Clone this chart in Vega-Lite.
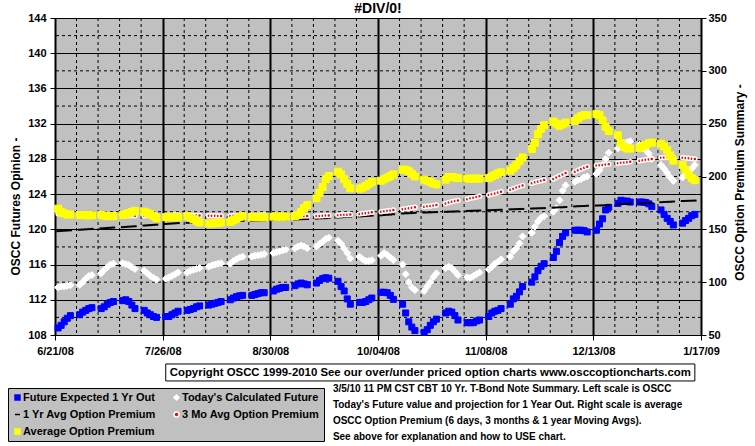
{
"$schema": "https://vega.github.io/schema/vega-lite/v6.json",
"width": 646, "height": 317,
"autosize": {"type": "none"},
"padding": {"left": 55, "top": 18, "right": 54, "bottom": 111},
"background": "white",
"title": {"text": "#DIV/0!", "fontSize": 14, "font": "Liberation Sans", "fontWeight": "bold", "color": "black", "anchor": "middle", "frame": "group", "offset": 0, "dy": 15, "baseline": "alphabetic"},
"data": {"format": {"parse": {"d": "date:'%Y-%m-%d'"}}, "values": [
{"d":"2008-06-22","fe":108.8,"tc":113.4,"ya":148.3,"mo":164.8,"ap":169.5},
{"d":"2008-06-23","fe":109.1,"tc":113.5,"ya":148.5,"mo":164.5,"ap":166.5},
{"d":"2008-06-24","fe":109.5,"tc":113.5,"ya":148.7,"mo":164.2,"ap":165},
{"d":"2008-06-25","fe":109.9,"tc":113.6,"ya":148.9,"mo":164.0,"ap":164},
{"d":"2008-06-26","fe":110.2,"tc":113.65,"ya":149.1,"mo":163.8,"ap":164},
{"d":"2008-06-29","fe":110.3,"tc":113.7,"ya":149.6,"mo":163.7,"ap":163.5},
{"d":"2008-06-30","fe":110.6,"tc":114.0,"ya":149.8,"mo":163.5,"ap":163.5},
{"d":"2008-07-01","fe":110.8,"tc":114.4,"ya":150.0,"mo":163.3,"ap":163.3},
{"d":"2008-07-02","fe":111.0,"tc":114.7,"ya":150.2,"mo":163.2,"ap":163.3},
{"d":"2008-07-03","fe":111.1,"tc":114.8,"ya":150.4,"mo":163.1,"ap":163.3},
{"d":"2008-07-06","fe":111.0,"tc":115.0,"ya":150.9,"mo":163.0,"ap":163.5},
{"d":"2008-07-07","fe":111.2,"tc":115.4,"ya":151.1,"mo":162.9,"ap":163},
{"d":"2008-07-08","fe":111.5,"tc":115.7,"ya":151.3,"mo":162.8,"ap":162.5},
{"d":"2008-07-09","fe":111.7,"tc":116.0,"ya":151.5,"mo":162.8,"ap":162.5},
{"d":"2008-07-10","fe":111.8,"tc":116.1,"ya":151.7,"mo":162.7,"ap":162.5},
{"d":"2008-07-13","fe":111.9,"tc":116.15,"ya":152.1,"mo":162.7,"ap":163.5},
{"d":"2008-07-14","fe":112.0,"tc":116.05,"ya":152.3,"mo":162.7,"ap":164.5},
{"d":"2008-07-15","fe":111.8,"tc":115.95,"ya":152.5,"mo":162.8,"ap":165.5},
{"d":"2008-07-16","fe":111.4,"tc":115.7,"ya":152.7,"mo":162.8,"ap":166.5},
{"d":"2008-07-17","fe":111.0,"tc":115.5,"ya":152.9,"mo":162.8,"ap":167.5},
{"d":"2008-07-20","fe":110.8,"tc":115.3,"ya":153.6,"mo":162.8,"ap":166.7},
{"d":"2008-07-21","fe":110.5,"tc":115.0,"ya":153.8,"mo":162.9,"ap":165.7},
{"d":"2008-07-22","fe":110.3,"tc":114.7,"ya":154.0,"mo":163.0,"ap":164.5},
{"d":"2008-07-23","fe":110.1,"tc":114.5,"ya":154.2,"mo":163.1,"ap":162.6},
{"d":"2008-07-24","fe":110.0,"tc":114.3,"ya":154.4,"mo":163.2,"ap":160.4},
{"d":"2008-07-27","fe":110.1,"tc":114.4,"ya":155.1,"mo":163.2,"ap":161.5},
{"d":"2008-07-28","fe":110.1,"tc":114.55,"ya":155.3,"mo":163.3,"ap":161.5},
{"d":"2008-07-29","fe":110.3,"tc":114.7,"ya":155.5,"mo":163.4,"ap":161.5},
{"d":"2008-07-30","fe":110.5,"tc":114.9,"ya":155.7,"mo":163.5,"ap":161.5},
{"d":"2008-07-31","fe":110.7,"tc":115.1,"ya":155.9,"mo":163.5,"ap":161.5},
{"d":"2008-08-03","fe":110.8,"tc":115.1,"ya":156.2,"mo":163.5,"ap":162.5},
{"d":"2008-08-04","fe":110.9,"tc":115.3,"ya":156.4,"mo":163.4,"ap":161},
{"d":"2008-08-05","fe":111.0,"tc":115.4,"ya":156.6,"mo":163.3,"ap":159.5},
{"d":"2008-08-06","fe":111.2,"tc":115.5,"ya":156.8,"mo":163.1,"ap":158},
{"d":"2008-08-07","fe":111.3,"tc":115.6,"ya":157.0,"mo":163.0,"ap":156.5},
{"d":"2008-08-10","fe":111.4,"tc":115.75,"ya":157.0,"mo":162.9,"ap":155.5},
{"d":"2008-08-11","fe":111.5,"tc":115.9,"ya":157.1,"mo":162.8,"ap":155.5},
{"d":"2008-08-12","fe":111.6,"tc":116.0,"ya":157.2,"mo":162.8,"ap":156},
{"d":"2008-08-13","fe":111.7,"tc":116.1,"ya":157.3,"mo":162.7,"ap":156},
{"d":"2008-08-14","fe":111.8,"tc":116.15,"ya":157.4,"mo":162.7,"ap":156.5},
{"d":"2008-08-17","fe":112.0,"tc":116.1,"ya":157.6,"mo":162.7,"ap":157},
{"d":"2008-08-18","fe":112.2,"tc":116.4,"ya":157.7,"mo":162.8,"ap":158.5},
{"d":"2008-08-19","fe":112.35,"tc":116.6,"ya":157.8,"mo":162.9,"ap":160},
{"d":"2008-08-20","fe":112.45,"tc":116.8,"ya":157.9,"mo":163.0,"ap":161.5},
{"d":"2008-08-21","fe":112.5,"tc":116.9,"ya":158.0,"mo":163.0,"ap":162.5},
{"d":"2008-08-24","fe":112.5,"tc":116.9,"ya":158.2,"mo":163.1,"ap":161.5},
{"d":"2008-08-25","fe":112.6,"tc":117.0,"ya":158.3,"mo":163.3,"ap":161.5},
{"d":"2008-08-26","fe":112.7,"tc":117.05,"ya":158.4,"mo":163.4,"ap":161.5},
{"d":"2008-08-27","fe":112.8,"tc":117.1,"ya":158.5,"mo":163.5,"ap":161.5},
{"d":"2008-08-28","fe":112.8,"tc":117.2,"ya":158.6,"mo":163.6,"ap":161.5},
{"d":"2008-08-31","fe":113.0,"tc":117.3,"ya":158.8,"mo":163.4,"ap":162},
{"d":"2008-09-01","fe":113.2,"tc":117.4,"ya":158.9,"mo":163.2,"ap":162},
{"d":"2008-09-02","fe":113.3,"tc":117.5,"ya":159.0,"mo":163.0,"ap":162},
{"d":"2008-09-03","fe":113.4,"tc":117.6,"ya":159.1,"mo":162.9,"ap":162},
{"d":"2008-09-04","fe":113.4,"tc":117.7,"ya":159.2,"mo":162.8,"ap":162},
{"d":"2008-09-07","fe":113.6,"tc":117.85,"ya":159.4,"mo":162.7,"ap":162.5},
{"d":"2008-09-08","fe":113.8,"tc":118.05,"ya":159.5,"mo":162.6,"ap":163.5},
{"d":"2008-09-09","fe":113.9,"tc":118.15,"ya":159.6,"mo":162.6,"ap":166.5},
{"d":"2008-09-10","fe":113.8,"tc":118.05,"ya":159.7,"mo":162.6,"ap":170},
{"d":"2008-09-11","fe":113.7,"tc":117.85,"ya":159.8,"mo":162.6,"ap":173},
{"d":"2008-09-14","fe":113.9,"tc":118.05,"ya":160.2,"mo":162.6,"ap":179.4},
{"d":"2008-09-15","fe":114.2,"tc":118.35,"ya":160.4,"mo":162.7,"ap":184.5},
{"d":"2008-09-16","fe":114.4,"tc":118.6,"ya":160.5,"mo":162.8,"ap":190},
{"d":"2008-09-17","fe":114.5,"tc":118.9,"ya":160.6,"mo":163.0,"ap":197.5},
{"d":"2008-09-18","fe":114.45,"tc":119.05,"ya":160.8,"mo":163.2,"ap":200.5},
{"d":"2008-09-21","fe":114.1,"tc":118.7,"ya":161.2,"mo":163.3,"ap":204.5},
{"d":"2008-09-22","fe":113.5,"tc":118.35,"ya":161.4,"mo":163.5,"ap":202},
{"d":"2008-09-23","fe":113.0,"tc":117.85,"ya":161.6,"mo":163.7,"ap":197.5},
{"d":"2008-09-24","fe":112.1,"tc":117.3,"ya":161.8,"mo":163.9,"ap":193},
{"d":"2008-09-25","fe":111.5,"tc":116.7,"ya":162.0,"mo":164.1,"ap":188.8},
{"d":"2008-09-28","fe":111.7,"tc":116.9,"ya":162.2,"mo":164.5,"ap":188.5},
{"d":"2008-09-29","fe":111.7,"tc":116.6,"ya":162.4,"mo":164.9,"ap":189.5},
{"d":"2008-09-30","fe":111.8,"tc":116.4,"ya":162.6,"mo":165.3,"ap":191},
{"d":"2008-10-01","fe":112.0,"tc":116.4,"ya":162.8,"mo":165.7,"ap":193},
{"d":"2008-10-02","fe":112.2,"tc":116.5,"ya":163.0,"mo":166.1,"ap":195},
{"d":"2008-10-05","fe":112.85,"tc":117.0,"ya":163.3,"mo":166.6,"ap":196},
{"d":"2008-10-06","fe":112.85,"tc":117.3,"ya":163.6,"mo":167.1,"ap":197.5},
{"d":"2008-10-07","fe":112.8,"tc":117.1,"ya":163.8,"mo":167.5,"ap":199},
{"d":"2008-10-08","fe":112.5,"tc":116.8,"ya":164.0,"mo":167.9,"ap":200.5},
{"d":"2008-10-09","fe":112.05,"tc":116.5,"ya":164.3,"mo":168.3,"ap":202},
{"d":"2008-10-12","fe":111.5,"tc":116.0,"ya":165.0,"mo":168.9,"ap":206.5},
{"d":"2008-10-13","fe":110.5,"tc":114.9,"ya":165.2,"mo":169.5,"ap":206.5},
{"d":"2008-10-14","fe":109.5,"tc":114.0,"ya":165.3,"mo":170.0,"ap":205},
{"d":"2008-10-15","fe":108.9,"tc":113.4,"ya":165.4,"mo":170.5,"ap":202.5},
{"d":"2008-10-16","fe":108.5,"tc":113.1,"ya":165.6,"mo":171.0,"ap":200},
{"d":"2008-10-19","fe":108.3,"tc":113.0,"ya":165.9,"mo":171.4,"ap":197},
{"d":"2008-10-20","fe":108.6,"tc":113.5,"ya":166.0,"mo":171.8,"ap":196},
{"d":"2008-10-21","fe":109.1,"tc":114.0,"ya":166.1,"mo":172.2,"ap":195},
{"d":"2008-10-22","fe":109.5,"tc":114.6,"ya":166.2,"mo":172.6,"ap":193.5},
{"d":"2008-10-23","fe":109.8,"tc":115.0,"ya":166.3,"mo":173.0,"ap":192.5},
{"d":"2008-10-26","fe":110.5,"tc":115.6,"ya":166.6,"mo":174.5,"ap":197},
{"d":"2008-10-27","fe":110.7,"tc":115.75,"ya":166.7,"mo":175.3,"ap":199.5},
{"d":"2008-10-28","fe":110.6,"tc":115.6,"ya":166.8,"mo":176.0,"ap":199.5},
{"d":"2008-10-29","fe":110.2,"tc":115.2,"ya":166.9,"mo":176.7,"ap":199},
{"d":"2008-10-30","fe":109.7,"tc":114.8,"ya":167.0,"mo":177.4,"ap":198.5},
{"d":"2008-11-02","fe":109.4,"tc":114.55,"ya":167.4,"mo":178.5,"ap":198},
{"d":"2008-11-03","fe":109.4,"tc":114.5,"ya":167.5,"mo":179.3,"ap":198},
{"d":"2008-11-04","fe":109.4,"tc":114.7,"ya":167.6,"mo":180.0,"ap":198},
{"d":"2008-11-05","fe":109.6,"tc":114.9,"ya":167.7,"mo":180.7,"ap":198},
{"d":"2008-11-06","fe":109.7,"tc":115.1,"ya":167.8,"mo":181.4,"ap":198},
{"d":"2008-11-09","fe":110.1,"tc":115.45,"ya":168.1,"mo":182.5,"ap":198.5},
{"d":"2008-11-10","fe":110.5,"tc":115.75,"ya":168.2,"mo":183.3,"ap":200},
{"d":"2008-11-11","fe":110.7,"tc":116.1,"ya":168.3,"mo":184.0,"ap":201.5},
{"d":"2008-11-12","fe":110.8,"tc":116.3,"ya":168.4,"mo":184.8,"ap":203},
{"d":"2008-11-13","fe":111.0,"tc":116.6,"ya":168.5,"mo":185.6,"ap":204},
{"d":"2008-11-16","fe":111.5,"tc":116.9,"ya":168.9,"mo":187.5,"ap":205.5},
{"d":"2008-11-17","fe":112.1,"tc":117.5,"ya":169.0,"mo":188.5,"ap":208},
{"d":"2008-11-18","fe":112.4,"tc":117.85,"ya":169.1,"mo":189.5,"ap":211},
{"d":"2008-11-19","fe":112.9,"tc":118.4,"ya":169.2,"mo":190.5,"ap":214.5},
{"d":"2008-11-20","fe":113.5,"tc":119.2,"ya":169.3,"mo":191.5,"ap":218},
{"d":"2008-11-23","fe":114.0,"tc":119.6,"ya":169.7,"mo":193.5,"ap":226},
{"d":"2008-11-24","fe":114.6,"tc":120.3,"ya":169.8,"mo":194.5,"ap":232},
{"d":"2008-11-25","fe":115.3,"tc":120.9,"ya":169.9,"mo":195.3,"ap":240},
{"d":"2008-11-26","fe":115.8,"tc":121.3,"ya":170.0,"mo":196.0,"ap":245},
{"d":"2008-11-27","fe":116.1,"tc":121.5,"ya":170.1,"mo":196.8,"ap":248.5},
{"d":"2008-11-30","fe":116.8,"tc":122.0,"ya":170.5,"mo":197.6,"ap":252},
{"d":"2008-12-01","fe":117.5,"tc":122.4,"ya":170.7,"mo":199.0,"ap":250},
{"d":"2008-12-02","fe":118.5,"tc":123.3,"ya":170.8,"mo":200.5,"ap":248},
{"d":"2008-12-03","fe":119.2,"tc":124.4,"ya":170.9,"mo":202.0,"ap":249.5},
{"d":"2008-12-04","fe":119.6,"tc":125.0,"ya":171.1,"mo":203.3,"ap":251},
{"d":"2008-12-07","fe":119.9,"tc":125.4,"ya":171.7,"mo":204.5,"ap":252.5},
{"d":"2008-12-08","fe":119.9,"tc":125.6,"ya":171.9,"mo":205.8,"ap":255},
{"d":"2008-12-09","fe":119.9,"tc":125.7,"ya":172.0,"mo":207.0,"ap":257},
{"d":"2008-12-10","fe":119.85,"tc":125.9,"ya":172.1,"mo":208.2,"ap":258},
{"d":"2008-12-11","fe":119.7,"tc":126.0,"ya":172.3,"mo":209.3,"ap":258},
{"d":"2008-12-14","fe":119.9,"tc":126.3,"ya":172.5,"mo":210.3,"ap":259},
{"d":"2008-12-15","fe":120.6,"tc":126.7,"ya":172.6,"mo":210.6,"ap":258},
{"d":"2008-12-16","fe":121.2,"tc":127.3,"ya":172.7,"mo":211.0,"ap":253},
{"d":"2008-12-17","fe":122.2,"tc":128.0,"ya":172.8,"mo":211.3,"ap":247},
{"d":"2008-12-18","fe":122.5,"tc":128.7,"ya":172.9,"mo":211.6,"ap":243},
{"d":"2008-12-21","fe":122.95,"tc":129.2,"ya":173.7,"mo":212.5,"ap":239},
{"d":"2008-12-22","fe":123.3,"tc":129.6,"ya":173.9,"mo":212.9,"ap":231.5},
{"d":"2008-12-23","fe":123.2,"tc":129.8,"ya":174.0,"mo":213.2,"ap":228},
{"d":"2008-12-24","fe":123.2,"tc":129.9,"ya":174.1,"mo":213.6,"ap":226.5},
{"d":"2008-12-25","fe":123.1,"tc":130.0,"ya":174.3,"mo":214.0,"ap":226.5},
{"d":"2008-12-28","fe":123.1,"tc":129.6,"ya":174.4,"mo":215.0,"ap":227},
{"d":"2008-12-29","fe":123.1,"tc":129.3,"ya":174.5,"mo":215.4,"ap":228.5},
{"d":"2008-12-30","fe":123.05,"tc":129.0,"ya":174.6,"mo":215.8,"ap":230},
{"d":"2008-12-31","fe":122.9,"tc":128.6,"ya":174.7,"mo":216.2,"ap":231.5},
{"d":"2009-01-01","fe":122.6,"tc":128.0,"ya":174.8,"mo":216.6,"ap":232},
{"d":"2009-01-04","fe":122.2,"tc":127.3,"ya":175.7,"mo":217.8,"ap":231},
{"d":"2009-01-05","fe":121.7,"tc":126.9,"ya":175.9,"mo":217.9,"ap":228.5},
{"d":"2009-01-06","fe":121.25,"tc":126.4,"ya":176.0,"mo":218.0,"ap":225},
{"d":"2009-01-07","fe":120.9,"tc":125.9,"ya":176.1,"mo":218.1,"ap":220},
{"d":"2009-01-08","fe":120.5,"tc":125.5,"ya":176.3,"mo":218.2,"ap":215},
{"d":"2009-01-11","fe":120.7,"tc":125.9,"ya":176.8,"mo":217.8,"ap":211},
{"d":"2009-01-12","fe":121.0,"tc":126.2,"ya":176.9,"mo":217.5,"ap":206.5},
{"d":"2009-01-13","fe":121.25,"tc":126.5,"ya":177.0,"mo":217.2,"ap":201.5},
{"d":"2009-01-14","fe":121.55,"tc":126.9,"ya":177.1,"mo":216.9,"ap":198.5},
{"d":"2009-01-15","fe":121.7,"tc":127.3,"ya":177.2,"mo":216.6,"ap":196.5}
]},
"resolve": {"scale": {"y": "independent"}},
"layer": [
{
"layer": [
{"data": {"values": [{"h":110},{"h":114},{"h":118},{"h":122},{"h":126},{"h":130},{"h":134},{"h":138},{"h":142}]},
 "mark": {"type": "rule", "color": "black", "strokeWidth": 1, "strokeDash": [3, 3]},
 "encoding": {"y": {"field": "h", "type": "quantitative", "scale": {"domain": [108, 144], "nice": false, "zero": false}}}},
{"data": {"format": {"parse": {"g": "date:'%Y-%m-%d'"}}, "values": [{"g":"2008-06-28"},{"g":"2008-07-05"},{"g":"2008-07-12"},{"g":"2008-07-19"},{"g":"2008-08-02"},{"g":"2008-08-09"},{"g":"2008-08-16"},{"g":"2008-08-23"},{"g":"2008-09-06"},{"g":"2008-09-13"},{"g":"2008-09-20"},{"g":"2008-09-27"},{"g":"2008-10-11"},{"g":"2008-10-18"},{"g":"2008-10-25"},{"g":"2008-11-01"},{"g":"2008-11-15"},{"g":"2008-11-22"},{"g":"2008-11-29"},{"g":"2008-12-06"},{"g":"2008-12-20"},{"g":"2008-12-27"},{"g":"2009-01-03"},{"g":"2009-01-10"}]},
 "mark": {"type": "rule", "color": "black", "strokeWidth": 1, "strokeDash": [3, 3]},
 "encoding": {"x": {"field": "g", "type": "temporal", "scale": {"domain": [{"year":2008,"month":6,"date":21},{"year":2009,"month":1,"date":17}]}}}},
{"mark": {"type": "point", "filled": true, "opacity": 1},
 "encoding": {
  "x": {"field": "d", "type": "temporal", "scale": {"domain": [{"year":2008,"month":6,"date":21},{"year":2009,"month":1,"date":17}]},
        "axis": {"values": [{"year":2008,"month":6,"date":21},{"year":2008,"month":7,"date":26},{"year":2008,"month":8,"date":30},{"year":2008,"month":10,"date":4},{"year":2008,"month":11,"date":8},{"year":2008,"month":12,"date":13},{"year":2009,"month":1,"date":17}],
                 "tickCount": 30, "format": "%-m/%d/%y", "title": null, "grid": true, "gridColor": "black", "gridWidth": 2, "gridOpacity": 1,
                 "domainColor": "black", "domainWidth": 1, "tickColor": "black", "tickSize": 5, "tickWidth": 1, "labelPadding": 5,
                 "labelFont": "Liberation Sans", "labelFontSize": 11, "labelFontWeight": "bold", "labelColor": "black", "labelFlush": false, "labelOverlap": false}},
  "y": {"field": "fe", "type": "quantitative", "scale": {"domain": [108, 144], "nice": false, "zero": false},
        "axis": {"orient": "left", "values": [108,112,116,120,124,128,132,136,140,144], "tickCount": 30, "grid": true, "gridColor": "black", "gridWidth": 1, "gridOpacity": 1,
                 "domainColor": "black", "tickColor": "black", "tickSize": 5, "labelPadding": 4,
                 "labelFont": "Liberation Sans", "labelFontSize": 11, "labelFontWeight": "bold", "labelColor": "black", "labelFlush": false, "labelOverlap": false,
                 "title": "OSCC Futures Opinion -", "titleFont": "Liberation Sans", "titleFontSize": 12, "titleFontWeight": "bold", "titleColor": "black",
                 "titleAngle": 270, "titleX": -40, "titleY": 188, "titleBaseline": "middle", "titleAlign": "center"}},
  "fill": {"datum": "Future Expected 1 Yr Out", "type": "nominal",
           "scale": {"domain": ["Future Expected 1 Yr Out","Today's Calculated Future","1 Yr Avg Option Premium","3 Mo Avg Option Premium","Average Option Premium"], "range": ["#0000ff","#ffffff","#000000","#ff0000","#ffff00"]},
           "legend": {"title": null, "orient": "none", "legendX": -47, "legendY": 370, "columns": 2, "direction": "horizontal"}},
  "stroke": {"datum": "Future Expected 1 Yr Out", "type": "nominal",
           "scale": {"domain": ["Future Expected 1 Yr Out","Today's Calculated Future","1 Yr Avg Option Premium","3 Mo Avg Option Premium","Average Option Premium"], "range": ["#0000ff","#ffffff","#000000","#ffffff","#ffff00"]},
           "legend": {"title": null, "orient": "none", "legendX": -47, "legendY": 370, "columns": 2, "direction": "horizontal"}},
  "shape": {"datum": "Future Expected 1 Yr Out", "type": "nominal",
           "scale": {"domain": ["Future Expected 1 Yr Out","Today's Calculated Future","1 Yr Avg Option Premium","3 Mo Avg Option Premium","Average Option Premium"], "range": ["square","diamond","stroke","circle","square"]},
           "legend": {"title": null, "orient": "none", "legendX": -47, "legendY": 370, "columns": 2, "direction": "horizontal"}},
  "size": {"value": 36},
  "strokeWidth": {"value": 1}
 }},
{"mark": {"type": "point", "filled": true, "opacity": 1},
 "encoding": {
  "x": {"field": "d", "type": "temporal", "scale": {"domain": [{"year":2008,"month":6,"date":21},{"year":2009,"month":1,"date":17}]}},
  "y": {"field": "tc", "type": "quantitative", "scale": {"domain": [108, 144], "nice": false, "zero": false}},
  "fill": {"datum": "Today's Calculated Future", "type": "nominal", "legend": null},
  "stroke": {"datum": "Today's Calculated Future", "type": "nominal", "legend": null},
  "shape": {"datum": "Today's Calculated Future", "type": "nominal", "legend": null},
  "size": {"value": 49},
  "strokeWidth": {"value": 1}
 }},
{"data": {"values": [{"box": "copyright"}]},
 "mark": {"type": "rect", "fill": "white", "stroke": "black", "strokeWidth": 1},
 "encoding": {
  "x": {"datum": {"year":2008,"month":7,"date":27}, "type": "temporal", "scale": {"domain": [{"year":2008,"month":6,"date":21},{"year":2009,"month":1,"date":17}]}},
  "x2": {"datum": {"year":2009,"month":1,"date":15}},
  "y": {"datum": 104.71, "type": "quantitative", "scale": {"domain": [108, 144], "nice": false, "zero": false}},
  "y2": {"datum": 102.78}
 }},
{"data": {"values": [{"t": "Copyright OSCC 1999-2010 See our over/under priced option charts www.osccoptioncharts.com"}]},
 "mark": {"type": "text", "font": "Liberation Sans", "fontWeight": "bold", "fontSize": 11.4, "color": "black", "align": "center", "baseline": "middle"},
 "encoding": {
  "x": {"datum": {"year":2008,"month":10,"date":21}, "type": "temporal", "scale": {"domain": [{"year":2008,"month":6,"date":21},{"year":2009,"month":1,"date":17}]}},
  "y": {"datum": 103.74, "type": "quantitative", "scale": {"domain": [108, 144], "nice": false, "zero": false}},
  "text": {"field": "t"}
 }},
{"data": {"values": [{"t": "3/5/10 11 PM CST CBT 10 Yr. T-Bond Note Summary. Left scale is OSCC\nToday's Future value and projection for 1 Year Out. Right scale is average\nOSCC Option Premium (6  days, 3 months & 1 year Moving  Avgs).\nSee above for explanation and how to USE chart."}]},
 "mark": {"type": "text", "font": "Liberation Sans", "fontWeight": "bold", "fontSize": 10, "color": "black", "align": "left", "baseline": "alphabetic", "lineBreak": "\n", "lineHeight": 16},
 "encoding": {
  "x": {"datum": {"year":2008,"month":9,"date":19,"hours":8}, "type": "temporal", "scale": {"domain": [{"year":2008,"month":6,"date":21},{"year":2009,"month":1,"date":17}]}},
  "y": {"datum": 101.57, "type": "quantitative", "scale": {"domain": [108, 144], "nice": false, "zero": false}},
  "text": {"field": "t"}
 }}
]
},
{
"layer": [
{"mark": {"type": "point", "filled": true, "opacity": 1},
 "encoding": {
  "x": {"field": "d", "type": "temporal", "scale": {"domain": [{"year":2008,"month":6,"date":21},{"year":2009,"month":1,"date":17}]}},
  "y": {"field": "ya", "type": "quantitative", "scale": {"domain": [50, 350], "nice": false, "zero": false},
        "axis": {"orient": "right", "values": [50,100,150,200,250,300,350], "tickCount": 30, "grid": false,
                 "domainColor": "black", "tickColor": "black", "tickSize": 5, "labelPadding": 2,
                 "labelFont": "Liberation Sans", "labelFontSize": 11, "labelFontWeight": "bold", "labelColor": "black", "labelFlush": false, "labelOverlap": false,
                 "title": "OSCC Option Premium Summary -", "titleFont": "Liberation Sans", "titleFontSize": 12, "titleFontWeight": "bold", "titleColor": "black",
                 "titleAngle": 270, "titleX": 38.5, "titleY": 164, "titleBaseline": "middle", "titleAlign": "center"}},
  "fill": {"datum": "1 Yr Avg Option Premium", "type": "nominal", "legend": null},
  "stroke": {"datum": "1 Yr Avg Option Premium", "type": "nominal", "legend": null},
  "shape": {"datum": "1 Yr Avg Option Premium", "type": "nominal", "legend": null},
  "size": {"value": 12},
  "strokeWidth": {"value": 2}
 }},
{"mark": {"type": "point", "filled": true, "opacity": 1},
 "encoding": {
  "x": {"field": "d", "type": "temporal", "scale": {"domain": [{"year":2008,"month":6,"date":21},{"year":2009,"month":1,"date":17}]}},
  "y": {"field": "mo", "type": "quantitative", "scale": {"domain": [50, 350], "nice": false, "zero": false}},
  "fill": {"datum": "3 Mo Avg Option Premium", "type": "nominal", "legend": null},
  "stroke": {"datum": "3 Mo Avg Option Premium", "type": "nominal", "legend": null},
  "shape": {"datum": "3 Mo Avg Option Premium", "type": "nominal", "legend": null},
  "size": {"value": 16},
  "strokeWidth": {"value": 1.5}
 }},
{"mark": {"type": "point", "filled": true, "opacity": 1},
 "encoding": {
  "x": {"field": "d", "type": "temporal", "scale": {"domain": [{"year":2008,"month":6,"date":21},{"year":2009,"month":1,"date":17}]}},
  "y": {"field": "ap", "type": "quantitative", "scale": {"domain": [50, 350], "nice": false, "zero": false}},
  "fill": {"datum": "Average Option Premium", "type": "nominal", "legend": null},
  "stroke": {"datum": "Average Option Premium", "type": "nominal", "legend": null},
  "shape": {"datum": "Average Option Premium", "type": "nominal", "legend": null},
  "size": {"value": 49},
  "strokeWidth": {"value": 1}
 }}
]
}
],
"config": {
 "font": "Liberation Sans",
 "view": {"fill": "#c0c0c0", "stroke": null},
 "legend": {"fillColor": "#c0c0c0", "strokeColor": "black", "padding": 4, "labelFont": "Liberation Sans", "labelFontWeight": "bold", "labelFontSize": 11, "labelColor": "black",
            "symbolSize": 25, "symbolStrokeWidth": 1.5, "rowPadding": 5, "columnPadding": 15, "labelOffset": 0, "labelLimit": 300}
}
}
